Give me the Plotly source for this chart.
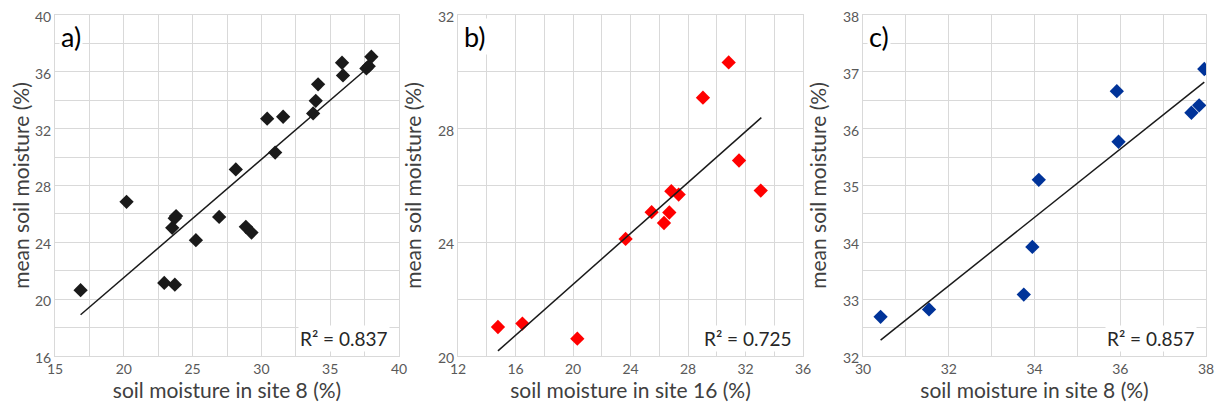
import plotly.graph_objects as go

# Panel a: site 8 vs mean
a_x = [16.86, 20.2, 22.94, 23.71, 23.52, 23.7, 23.8, 25.24, 26.93, 28.14, 28.87, 29.28,
       30.42, 31.0, 31.58, 33.76, 33.95, 34.12, 35.86, 35.93, 37.63, 37.8, 37.99]
a_y = [20.63, 26.85, 21.14, 21.02, 25.02, 25.7, 25.85, 24.15, 25.79, 29.13, 25.09, 24.69,
       32.70, 30.32, 32.84, 33.07, 33.96, 35.12, 36.64, 35.75, 36.24, 36.4, 37.06]
a_fit_x = [16.86, 37.99]
a_fit_y = [18.9, 36.5]

# Panel b: site 16 vs mean
b_x = [14.78, 16.48, 20.30, 23.66, 25.47, 26.33, 26.70, 26.84, 27.35, 29.04, 30.83, 31.55, 33.06]
b_y = [21.02, 21.14, 20.61, 24.12, 25.06, 24.68, 25.05, 25.80, 25.68, 29.09, 30.33, 26.88, 25.82]
b_fit_x = [14.78, 33.1]
b_fit_y = [20.18, 28.39]

# Panel c: site 8 vs mean (wet subset)
c_x = [30.41, 31.54, 33.75, 33.95, 34.10, 35.92, 35.96, 37.66, 37.84, 37.96]
c_y = [32.69, 32.82, 33.08, 33.92, 35.10, 36.66, 35.77, 36.28, 36.41, 37.05]
c_fit_x = [30.41, 37.96]
c_fit_y = [32.28, 36.82]

labels = ["a)", "b)", "c)"]
r2 = ["0.837", "0.725", "0.857"]
x_titles = ["soil moisture in site 8 (%)", "soil moisture in site 16 (%)", "soil moisture in site 8 (%)"]
y_title = "mean soil moisture (%)"

OFF = 8                      # page body margin
W, H = 1224 - 2 * OFF, 410 - 2 * OFF
FONT = "Lato, Open Sans, sans-serif"
GRID = "#d9d9d9"

panels = [
    dict(x=a_x, y=a_y, fx=a_fit_x, fy=a_fit_y, color="#1a1a1a",
         px=(55, 399), xr=(15, 40), xd=5, xm=2.5, yr=(16, 40), yd=4, ym=2),
    dict(x=b_x, y=b_y, fx=b_fit_x, fy=b_fit_y, color="#ff0000",
         px=(458, 803), xr=(12, 36), xd=4, xm=2, yr=(20, 32), yd=4, ym=2),
    dict(x=c_x, y=c_y, fx=c_fit_x, fy=c_fit_y, color="#003399",
         px=(863, 1206), xr=(30, 38), xd=2, xm=1, yr=(32, 38), yd=1, ym=0.5),
]

fig = go.Figure()
layout = {}
annotations = []
for i, p in enumerate(panels):
    n = "" if i == 0 else str(i + 1)
    xa, ya = "x" + n, "y" + n
    fig.add_trace(go.Scatter(x=p["x"], y=p["y"], mode="markers", xaxis=xa, yaxis=ya,
                             marker=dict(symbol="diamond", size=11, color=p["color"]),
                             showlegend=False))
    fig.add_trace(go.Scatter(x=p["fx"], y=p["fy"], mode="lines", xaxis=xa, yaxis=ya,
                             line=dict(color="#1a1a1a", width=1.5), showlegend=False))
    common = dict(showgrid=True, gridcolor=GRID, gridwidth=1, showline=True, linecolor=GRID,
                  linewidth=1, mirror=True, zeroline=False, ticks="", automargin=False,
                  ticklabeloverflow="allow",
                  tickfont=dict(family=FONT, size=14, color="#595959"))
    layout["xaxis" + n] = dict(
        common, domain=[(p["px"][0] - OFF) / W, (p["px"][1] - OFF) / W], range=list(p["xr"]),
        dtick=p["xd"], tick0=p["xr"][0], anchor=ya,
        minor=dict(dtick=p["xm"], showgrid=True, gridcolor=GRID, ticks=""),
        title=dict(text=x_titles[i], font=dict(family=FONT, size=21, color="#404040"), standoff=7))
    layout["yaxis" + n] = dict(
        common, domain=[0, 1], range=list(p["yr"]), dtick=p["yd"], tick0=p["yr"][0], anchor=xa,
        ticklabelshift=2,
        minor=dict(dtick=p["ym"], showgrid=True, gridcolor=GRID, ticks=""),
        title=dict(text=y_title, font=dict(family=FONT, size=21, color="#404040"), standoff=10))
    annotations.append(dict(text=labels[i], xref=xa + " domain", yref=ya + " domain",
                            x=0.012, y=0.99, xanchor="left", yanchor="top", showarrow=False,
                            bgcolor="white", font=dict(family=FONT, size=27, color="#000000")))
    annotations.append(dict(text="R² = " + r2[i], xref=xa + " domain", yref=ya + " domain",
                            x=0.975, y=0.012, xanchor="right", yanchor="bottom", showarrow=False,
                            bgcolor="white", font=dict(family=FONT, size=19, color="#262626")))

fig.update_layout(**layout)
fig.update_layout(width=W, height=H, margin=dict(l=0, r=0, t=15 - OFF, b=H - (356 - OFF)),
                  paper_bgcolor="white", plot_bgcolor="white", annotations=annotations)
fig.write_html("out.html")
